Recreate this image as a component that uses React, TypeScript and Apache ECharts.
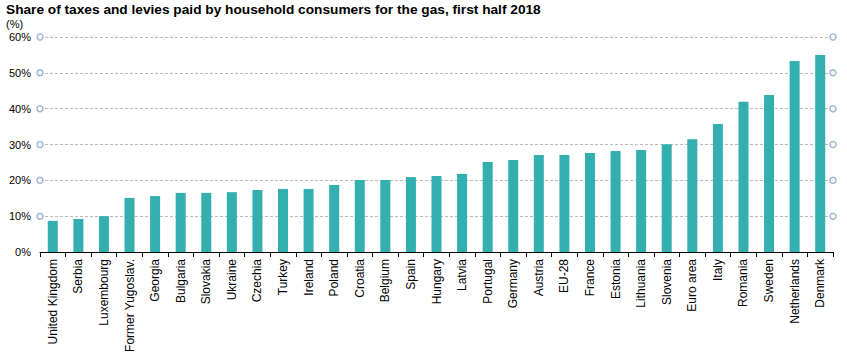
import React, { useEffect, useRef } from "react";
import * as echarts from "echarts";

const categories = [
  "United Kingdom", "Serbia", "Luxembourg", "Former Yugoslav.", "Georgia", "Bulgaria",
  "Slovakia", "Ukraine", "Czechia", "Turkey", "Ireland", "Poland", "Croatia", "Belgium",
  "Spain", "Hungary", "Latvia", "Portugal", "Germany", "Austria", "EU-28", "France",
  "Estonia", "Lithuania", "Slovenia", "Euro area", "Italy", "Romania", "Sweden",
  "Netherlands", "Denmark",
];
const values = [
  8.7, 9.2, 10.0, 15.1, 15.6, 16.5, 16.5, 16.7, 17.3, 17.6, 17.6, 18.7, 20.1, 20.1,
  20.9, 21.2, 21.8, 25.1, 25.7, 27.1, 27.1, 27.6, 28.2, 28.5, 30.1, 31.5, 35.7, 41.9,
  43.8, 53.3, 55.0,
];
const gridTicks = [10, 20, 30, 40, 50, 60];

const FONT = "Liberation Sans, Arial, sans-serif";

export default function App() {
  const ref = useRef<HTMLDivElement>(null);
  useEffect(() => {
    const chart = echarts.init(ref.current!, null, { renderer: "svg" });
    const markers: number[][] = [];
    gridTicks.forEach((t) => {
      markers.push([0, t]);
      markers.push([1, t]);
    });
    chart.setOption({
      animation: false,
      textStyle: { fontFamily: FONT },
      title: [
        {
          text: "Share of taxes and levies paid by household consumers for the gas, first half 2018",
          left: 6,
          top: 2,
          padding: 0,
          textStyle: { fontSize: 13.7, fontWeight: "bold", color: "#000", fontFamily: FONT },
        },
        {
          text: "(%)",
          left: 6,
          top: 18,
          padding: 0,
          textStyle: { fontSize: 11, fontWeight: "normal", color: "#000", fontFamily: FONT },
        },
      ],
      grid: { left: 40, right: 14, top: 37, bottom: 107, containLabel: false },
      xAxis: [
        {
          type: "category",
          data: categories,
          boundaryGap: true,
          axisLine: { lineStyle: { color: "#000", width: 1 } },
          axisTick: { show: true, length: 5, alignWithLabel: false, lineStyle: { color: "#000" } },
          axisLabel: {
            rotate: 90,
            interval: 0,
            fontSize: 12,
            color: "#000",
            margin: 7,
            fontFamily: FONT,
          },
        },
        { type: "value", min: 0, max: 1, show: false },
      ],
      yAxis: {
        type: "value",
        min: 0,
        max: 60,
        interval: 10,
        axisLine: { show: false },
        axisTick: { show: false },
        axisLabel: {
          formatter: "{value}%",
          fontSize: 11,
          color: "#000",
          margin: 9,
          fontFamily: FONT,
        },
        splitLine: { lineStyle: { color: "#bbbbbb", type: [3, 2], width: 1 } },
      },
      series: [
        {
          type: "bar",
          data: values,
          barWidth: 10,
          itemStyle: { color: "#33afaf" },
        },
        {
          type: "scatter",
          xAxisIndex: 1,
          data: markers,
          symbol: "circle",
          symbolSize: 6,
          clip: false,
          itemStyle: { color: "#ffffff", borderColor: "#8aa4c4", borderWidth: 1.5 },
          silent: true,
          z: 5,
        },
      ],
    });
    return () => chart.dispose();
  }, []);
  return (
    <div
      ref={ref}
      style={{ width: 847, height: 359, position: "fixed", top: 0, left: 0, background: "#fff" }}
    />
  );
}
